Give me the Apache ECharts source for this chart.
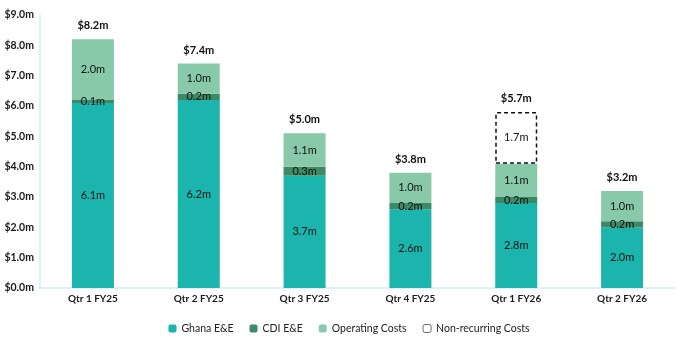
<!DOCTYPE html>
<html><head><meta charset="utf-8">
<script src="https://cdn.jsdelivr.net/npm/echarts@6/dist/echarts.min.js"></script>
<style>html,body{margin:0;padding:0;background:#fff}#c{width:698px;height:349px}</style>
</head><body><div id="c"></div>
<script>
const categories = ['Qtr 1 FY25','Qtr 2 FY25','Qtr 3 FY25','Qtr 4 FY25','Qtr 1 FY26','Qtr 2 FY26'];
const ghana = [6.1, 6.2, 3.7, 2.6, 2.8, 2.0];
const cdi = [0.1, 0.2, 0.3, 0.2, 0.2, 0.2];
const operating = [2.0, 1.0, 1.1, 1.0, 1.1, 1.0];
const nonRecurring = [0, 0, 0, 0, 1.7, 0];
const totals = [8.2, 7.4, 5.0, 3.8, 5.7, 3.2];
const yTicks = [0,1,2,3,4,5,6,7,8,9];

const FONT = 'Lato, "Open Sans", sans-serif';
const chart = echarts.init(document.getElementById('c'));
const segLabel = {show: true, position: 'inside', color: '#111', fontSize: 11, fontFamily: FONT,
  formatter: p => p.value > 0 ? p.value.toFixed(1) + 'm' : ''};
const bw = 42;
const nonRecData = nonRecurring.map(v => v > 0 ? v : {value: v, itemStyle: {borderWidth: 0, color: 'transparent'}});
chart.setOption({
  animation: false,
  textStyle: {fontFamily: FONT},
  grid: {left: 40, right: 23, top: 15, bottom: 61, containLabel: false},
  legend: {
    bottom: 10, left: 'center', itemWidth: 8, itemHeight: 8, itemGap: 16,
    textStyle: {fontSize: 10.5, color: '#222', fontFamily: FONT},
    data: [
      {name: 'Ghana E&E'}, {name: 'CDI E&E'}, {name: 'Operating Costs'},
      {name: 'Non-recurring Costs', itemStyle: {color: '#fff', borderColor: '#667', borderWidth: 1, borderType: 'solid'}}
    ]
  },
  xAxis: {
    type: 'category', data: categories,
    axisLine: {lineStyle: {color: '#d4ecf6', width: 1.5}},
    axisTick: {show: false},
    axisLabel: {fontWeight: 'bold', fontSize: 10, color: '#1a1a1a', margin: 6, fontFamily: FONT}
  },
  yAxis: {
    type: 'value', min: yTicks[0], max: yTicks[yTicks.length-1], interval: 1,
    axisLine: {show: true, lineStyle: {color: '#d4ecf6', width: 1.5}},
    axisTick: {show: false},
    splitLine: {show: false},
    axisLabel: {fontWeight: 'bold', fontSize: 10.5, color: '#1a1a1a', margin: 6, fontFamily: FONT,
      formatter: v => '$' + v.toFixed(1) + 'm'}
  },
  series: [
    {name: 'Ghana E&E', type: 'bar', stack: 's', data: ghana, barWidth: bw, itemStyle: {color: '#1bb5ae'}, label: segLabel},
    {name: 'CDI E&E', type: 'bar', stack: 's', data: cdi, barWidth: bw, itemStyle: {color: '#3c8a67'}, label: segLabel},
    {name: 'Operating Costs', type: 'bar', stack: 's', data: operating, barWidth: bw, itemStyle: {color: '#88c9a9'}, label: segLabel},
    {name: 'Non-recurring Costs', type: 'bar', stack: 's', data: nonRecData, barWidth: bw,
      itemStyle: {color: '#fff', borderColor: '#111', borderWidth: 1.5, borderType: [4, 3]}, label: segLabel},
    {name: 'Total', type: 'bar', stack: 's', data: totals.map(() => 0), barWidth: bw,
      itemStyle: {color: 'transparent', borderWidth: 0},
      label: {show: true, position: 'top', distance: 8, fontWeight: 'bold', fontSize: 11, color: '#111', fontFamily: FONT,
        formatter: p => '$' + totals[p.dataIndex].toFixed(1) + 'm'}}
  ]
});
</script></body></html>
